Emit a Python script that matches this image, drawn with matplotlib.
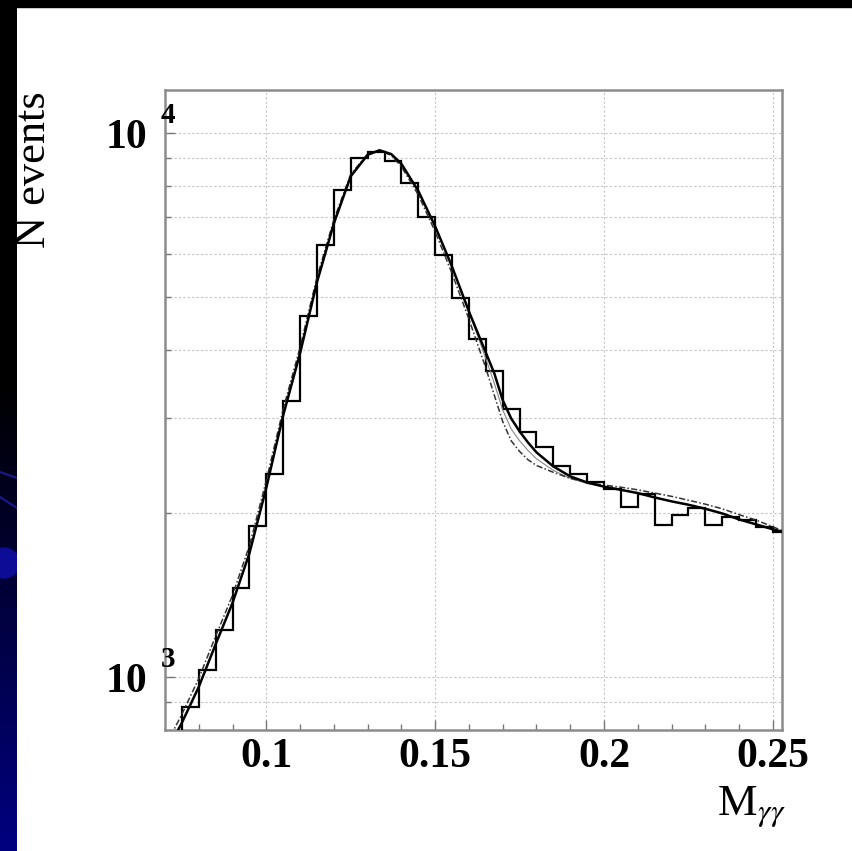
import matplotlib
matplotlib.use('Agg')
import matplotlib.pyplot as plt
import numpy as np
from matplotlib.transforms import offset_copy
from matplotlib.patches import Rectangle, Circle

plt.rcParams['font.family'] = ['Liberation Serif', 'DejaVu Serif']
plt.rcParams['mathtext.fontset'] = 'stix'

# histogram: bin edges (width 0.005) and counts
bin_edges = [0.070, 0.075, 0.080, 0.085, 0.090, 0.095, 0.100, 0.105, 0.110, 0.115,
             0.120, 0.125, 0.130, 0.135, 0.140, 0.145, 0.150, 0.155, 0.160, 0.165,
             0.170, 0.175, 0.180, 0.185, 0.190, 0.195, 0.200, 0.205, 0.210, 0.215,
             0.220, 0.225, 0.230, 0.235, 0.240, 0.245, 0.250, 0.255]
counts = [780, 880, 1030, 1221, 1459, 1893, 2360, 3216, 4617, 6222,
          7850, 9000, 9230, 8900, 8085, 7026, 5958, 4972, 4180, 3655,
          3106, 2820, 2645, 2441, 2360, 2280, 2215, 2059, 2167, 1907,
          1991, 2050, 1907, 1973, 1948, 1890, 1850]

# fit curves
curve_x = [0.070, 0.075, 0.080, 0.085, 0.090, 0.095, 0.100, 0.105, 0.110, 0.115,
           0.120, 0.125, 0.130, 0.1335, 0.137, 0.140, 0.145, 0.150, 0.155, 0.160,
           0.165, 0.1675, 0.170, 0.1725, 0.175, 0.1775, 0.180, 0.185, 0.190, 0.195,
           0.200, 0.205, 0.210, 0.215, 0.220, 0.225, 0.230, 0.235, 0.240, 0.245,
           0.250, 0.2527]
fit_total = [720, 825, 960, 1150, 1370, 1690, 2230, 3030, 3940, 5320,
             6820, 8330, 9120, 9300, 9150, 8780, 7830, 6740, 5680, 4700,
             3950, 3620, 3230, 2990, 2830, 2700, 2590, 2440, 2340, 2280,
             2240, 2210, 2180, 2140, 2105, 2075, 2040, 2000, 1950, 1910,
             1870, 1852]
fit_alt = [745, 855, 995, 1190, 1415, 1745, 2300, 3110, 4040, 5430,
           6930, 8400, 9150, 9290, 9100, 8680, 7700, 6590, 5520, 4550,
           3700, 3300, 2950, 2720, 2600, 2510, 2450, 2380, 2320, 2280,
           2255, 2235, 2210, 2180, 2150, 2115, 2080, 2040, 1990, 1945,
           1890, 1860]
fit_thin = [720, 825, 960, 1150, 1370, 1690, 2230, 3030, 3940, 5320,
            6820, 8330, 9120, 9300, 9150, 8780, 7830, 6740, 5680, 4700,
            3850, 3470, 3100, 2860, 2720, 2610, 2520, 2400, 2320, 2270,
            2240, 2210, 2180, 2140, 2105, 2075, 2040, 2000, 1950, 1910,
            1870, 1852]

xticks = [0.1, 0.15, 0.2, 0.25]
xticklabels = ['0.1', '0.15', '0.2', '0.25']

W, H = 852, 851
fig = plt.figure(figsize=(W / 100, H / 100), dpi=100)
fig.patch.set_facecolor('white')

# slide background bits: black top bar and blue-ish left strip
fig.patches.append(Rectangle((0, 1 - 7 / H), 1, 7 / H, transform=fig.transFigure,
                             color='black', zorder=0))
strip = fig.add_axes([0, 0, 17 / W, 1])
strip.axis('off')
rows = np.linspace(0, 1, 200)
blue = np.clip((rows - 0.45) / 0.55, 0, 1) * 0.5
grad = np.zeros((200, 2, 3))
grad[:, :, 2] = blue[:, None]
strip.imshow(grad, aspect='auto', extent=[0, 17, H, 0])
strip.add_patch(Circle((4, 563), 15, color='#0c0c96'))
strip.plot([0, 17], [472, 478], color='#1a1a90', lw=1.5)
strip.plot([0, 17], [497, 508], color='#1a1a90', lw=1.5)
strip.set_xlim(0, 17)
strip.set_ylim(H, 0)

ax = fig.add_axes([165 / W, 1 - 730 / H, (782 - 165) / W, (730 - 90) / H])
ax.set_yscale('log')
ax.set_xlim(0.07, 0.2527)
ax.set_ylim(800, 12000)

ax.stairs(counts, bin_edges, baseline=None, color='black', lw=1.6, zorder=3)
ax.plot(curve_x, fit_thin, color='#888888', lw=0.8, zorder=4)
ax.plot(curve_x, fit_alt, color='#333333', lw=1.1, ls=(0, (4, 1.5, 1, 1.5)), zorder=4)
ax.plot(curve_x, fit_total, color='black', lw=1.8, zorder=5)

ax.set_xticks(xticks)
ax.set_xticklabels(xticklabels, fontsize=30, fontweight='bold')
ax.set_xticks(np.arange(0.08, 0.251, 0.01), minor=True)
ax.set_yticks([1000, 10000])
ax.set_yticklabels(['10', '10'], fontsize=30, fontweight='bold')
ax.set_yticks([900] + list(range(2000, 10000, 1000)), minor=True)
ax.yaxis.set_minor_formatter(plt.NullFormatter())
ax.tick_params(which='both', direction='in', color='#777777', width=1)
ax.tick_params(which='major', length=7)
ax.tick_params(which='minor', length=4)
ax.tick_params(axis='x', which='major', pad=6)
ax.tick_params(axis='y', which='major', pad=13)

grid_style = dict(color='#c4c4c4', lw=0.8, ls=(0, (2, 2)))
ax.xaxis.grid(True, which='major', **grid_style)
ax.yaxis.grid(True, which='both', **grid_style)
ax.set_axisbelow(True)
for sp in ax.spines.values():
    sp.set_color('#8c8c8c')
    sp.set_linewidth(1.8)

# exponents of the y labels
sup_tr = offset_copy(ax.get_yaxis_transform(), fig=fig, x=-4, y=18, units='dots')
ax.text(0, 10000, '4', transform=sup_tr, fontsize=21, fontweight='bold',
        ha='left', va='center')
ax.text(0, 1000, '3', transform=sup_tr, fontsize=21, fontweight='bold',
        ha='left', va='center')

fig.text(34 / W, 1 - 170 / H, 'N events', rotation=90, fontsize=32,
         ha='center', va='center')
fig.text(717 / W, 1 - 815 / H, r'M$_{\gamma\gamma}$', fontsize=32,
         ha='left', va='baseline')

fig.savefig('out.png', dpi=100)
